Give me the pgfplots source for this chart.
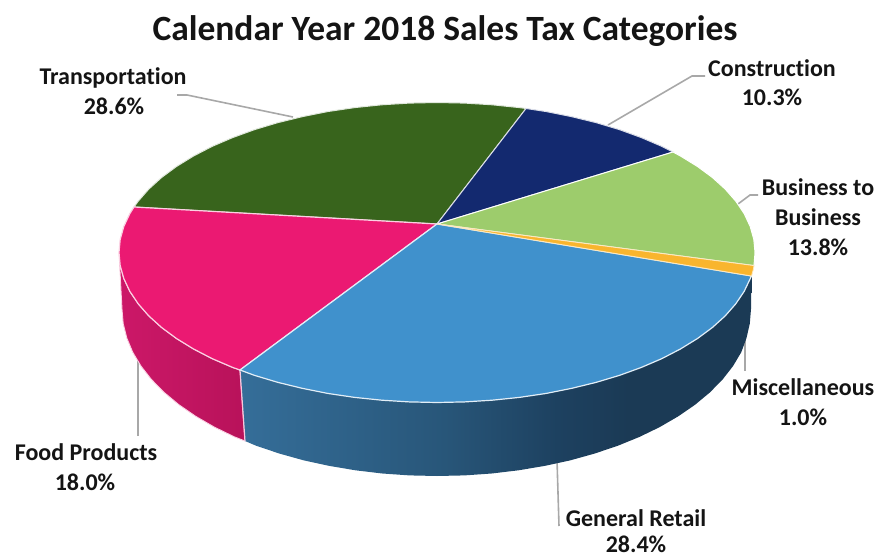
\documentclass[border=0pt]{standalone}
\usepackage{fontspec}
\setmainfont[Ligatures=CommonOff]{Carlito}
\usepackage{pgfplots}
\pgfplotsset{compat=1.18}

\definecolor{transport}{HTML}{38641C}
\definecolor{construction}{HTML}{13296F}
\definecolor{btob}{HTML}{9DCC6C}
\definecolor{misc}{HTML}{F9B52E}
\definecolor{retail}{HTML}{4091CC}
\definecolor{food}{HTML}{EB1972}
\definecolor{leader}{HTML}{A8A8A8}
\definecolor{inktext}{HTML}{141414}
\definecolor{rwa}{HTML}{356E99}
\definecolor{rwb}{HTML}{285679}
\definecolor{rwc}{HTML}{1D4160}
\definecolor{rwd}{HTML}{1B3A55}
\definecolor{fwa}{HTML}{CC1868}
\definecolor{fwb}{HTML}{B8125A}

% Wall shadings of the pie's visible rim
\pgfdeclarehorizontalshading{retailwall}{100bp}{
  color(0bp)=(rwa);
  color(25bp)=(rwa);
  color(45bp)=(rwb);
  color(56bp)=(rwc);
  color(63bp)=(rwd);
  color(100bp)=(rwd)}
\pgfdeclarehorizontalshading{foodwall}{100bp}{
  color(0bp)=(fwa);
  color(25bp)=(fwa);
  color(75bp)=(fwb);
  color(100bp)=(fwb)}

\newcommand{\lab}[3]{\node[anchor=base,text=inktext,font=\fontsize{24}{24}\selectfont\bfseries,inner sep=0pt] at (axis cs:#1,#2) {#3};}

\begin{document}
\begin{tikzpicture}
\useasboundingbox (0,0) rectangle (881pt,559pt);
\begin{axis}[
  at={(0,0)}, anchor=south west,
  width=881pt, height=559pt, scale only axis,
  xmin=0, xmax=881, ymin=0, ymax=559, y dir=reverse,
  hide axis, clip=false,
]
% Leader lines from the labels to their slices
\addplot[leader, line width=1.6pt] coordinates {(177,95) (187,95) (293,117)};
\addplot[leader, line width=1.6pt] coordinates {(705,76) (692,76) (608,125)};
\addplot[leader, line width=1.6pt] coordinates {(758,195) (750,195) (738,204)};
\addplot[leader, line width=1.6pt] coordinates {(745,371) (745,335)};
\addplot[leader, line width=1.6pt] coordinates {(559,526) (557,460)};
\addplot[leader, line width=1.6pt] coordinates {(138,436) (138,358)};

% Rim below Food Products
\addplot[shading=foodwall, draw=white!80!food, line width=0.9pt] coordinates {
  (119,252.5) (120.2,265.6) (123.8,278.5) (129.8,291.3) (138.2,303.8) (148.8,315.9)
  (161.6,327.5) (176.5,338.5) (193.4,348.9) (212.1,358.6) (232.6,367.4) (240,370)
  (245,441) (234.5,436.9) (214.3,427.1) (195.7,416.3) (179,404.8) (164.2,392.5)
  (151.5,379.6) (141,366.1) (132.7,352.2) (126.8,338) (123.2,323.6) (122,309)
} -- cycle;

% Rim below General Retail
\addplot[shading=retailwall, draw=none] coordinates {
  (240,370) (254.6,375.4) (278,382.4) (302.6,388.4) (328.2,393.5) (354.7,397.4)
  (381.8,400.2) (409.3,401.9) (437,402.5) (464.7,401.9) (492.2,400.2) (519.3,397.4)
  (545.8,393.5) (571.4,388.4) (596,382.4) (619.4,375.4) (641.4,367.4) (661.9,358.6)
  (680.6,348.9) (697.5,338.5) (712.4,327.5) (725.2,315.9) (735.8,303.8) (744.2,291.3)
  (751.5,276)
  (751,309) (749.8,323.6) (746.5,338) (741.3,352.2) (733,366.1) (722.5,379.6)
  (709.8,392.5) (695,404.8) (678.3,416.3) (659.7,427.1) (639.5,436.9) (617.7,445.8)
  (594.5,453.6) (570.1,460.4) (544.7,465.9) (518.5,470.3) (491.7,473.5) (464.5,475.4)
  (437,476) (409.5,475.4) (382.3,473.5) (355.5,470.3) (329.3,465.9) (303.9,460.4)
  (279.5,453.6) (256.3,445.8) (245,441)
} -- cycle;
\addplot[white!75!food, line width=1.2pt] coordinates {(240,370) (245,441)};

% Transportation, 28.6%
\addplot[fill=transport, draw=white!85!transport, line width=1pt] coordinates {
  (437,224) (526,108.5) (519.3,107.6) (492.2,104.8) (464.7,103.1) (437,102.5)
  (409.3,103.1) (381.8,104.8) (354.7,107.6) (328.2,111.5) (302.6,116.6) (278,122.6)
  (254.6,129.6) (232.6,137.6) (212.1,146.4) (193.4,156.1) (176.5,166.5) (161.6,177.5)
  (148.8,189.1) (138.2,201.2) (134,207)
} -- cycle;
% Construction, 10.3%
\addplot[fill=construction, draw=white!85!construction, line width=1pt] coordinates {
  (437,224) (673,152) (661.9,146.4) (641.4,137.6) (619.4,129.6) (596,122.6)
  (571.4,116.6) (545.8,111.5) (526,108.5)
} -- cycle;
% Business to Business, 13.8%
\addplot[fill=btob, draw=white, line width=1pt] coordinates {
  (437,224) (754,265.6) (755,252.5) (753.8,239.4) (750.2,226.5) (744.2,213.7)
  (735.8,201.2) (725.2,189.1) (712.4,177.5) (697.5,166.5) (680.6,156.1) (673,152)
} -- cycle;
% Food Products, 18.0%
\addplot[fill=food, draw=white!80!food, line width=1.2pt] coordinates {
  (437,224) (134,207) (129.8,213.7) (123.8,226.5) (120.2,239.4) (119,252.5)
  (120.2,265.6) (123.8,278.5) (129.8,291.3) (138.2,303.8) (148.8,315.9) (161.6,327.5)
  (176.5,338.5) (193.4,348.9) (212.1,358.6) (232.6,367.4) (240,370)
} -- cycle;
% General Retail, 28.4%
\addplot[fill=retail, draw=white!85!retail, line width=1.2pt] coordinates {
  (437,224) (240,370) (254.6,375.4) (278,382.4) (302.6,388.4) (328.2,393.5) (354.7,397.4)
  (381.8,400.2) (409.3,401.9) (437,402.5) (464.7,401.9) (492.2,400.2) (519.3,397.4)
  (545.8,393.5) (571.4,388.4) (596,382.4) (619.4,375.4) (641.4,367.4) (661.9,358.6)
  (680.6,348.9) (697.5,338.5) (712.4,327.5) (725.2,315.9) (735.8,303.8) (744.2,291.3)
  (751.5,276)
} -- cycle;
% Miscellaneous, 1.0%
\addplot[fill=misc, draw=white!70!misc, line width=0.8pt] coordinates {
  (437,224) (751.5,276) (753.2,270) (754,265.6)
} -- cycle;

% Title and labels
\node[anchor=base,text=inktext,font=\fontsize{35.5}{35.5}\selectfont\bfseries,inner sep=0pt] at (axis cs:445,41) {Calendar Year 2018 Sales Tax Categories};
\lab{113}{85}{Transportation}
\lab{114}{115}{28.6\%}
\lab{772}{77}{Construction}
\lab{772}{106}{10.3\%}
\lab{818}{195}{Business to}
\lab{818}{225}{Business}
\lab{818}{255}{13.8\%}
\lab{803}{395}{Miscellaneous}
\lab{803}{425}{1.0\%}
\lab{636}{526}{General Retail}
\lab{636}{552}{28.4\%}
\lab{86}{460}{Food Products}
\lab{85}{490}{18.0\%}
\end{axis}
\end{tikzpicture}
\end{document}
